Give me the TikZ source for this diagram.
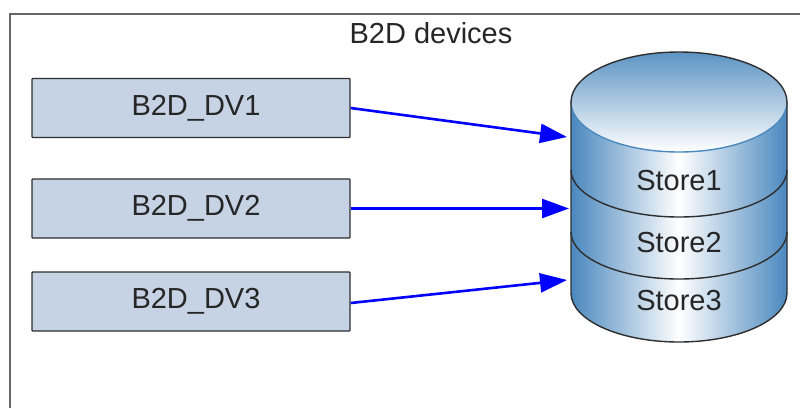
\documentclass[tikz,border=0pt]{standalone}
\usepackage{fontspec}
\setmainfont{Liberation Sans}
\usetikzlibrary{arrows.meta}
\definecolor{edgeblue}{HTML}{4A88BE}
\definecolor{topblue}{HTML}{5C94C4}
\definecolor{boxfill}{HTML}{C6D3E4}
\definecolor{inkline}{HTML}{2E2E2E}
\definecolor{framegrey}{HTML}{666666}
\tikzset{
  devbox/.style={draw=inkline,line width=1.3pt,fill=boxfill,rounded corners=0.8pt,minimum width=318pt,minimum height=59pt,inner sep=0pt,font=\fontsize{29}{31}\selectfont,text=black!85},
  lbl/.style={font=\fontsize{29}{31}\selectfont,text=black!85,inner sep=0pt},
  link/.style={draw={rgb,255:red,0;green,0;blue,255},line width=2.6pt,-{Triangle[length=27pt,width=19pt]}},
  ring/.style={draw=inkline,line width=1.4pt}
}
\begin{document}
\begin{tikzpicture}[x=1pt,y=-1pt]
\useasboundingbox (0,0) rectangle (800,408);
\draw[framegrey,line width=2pt] (9.5,408) -- (9.5,14) -- (800,14);
\node[lbl] (title) at (431,33) {B2D devices};
\node[devbox] (d1) at (191,108) {\hspace*{10pt}B2D\_DV1};
\node[devbox] (d2) at (191,208.5) {\hspace*{10pt}B2D\_DV2};
\node[devbox] (d3) at (191,301.5) {\hspace*{10pt}B2D\_DV3};
% cylinder
\shade[left color=edgeblue,right color=edgeblue,middle color=white]
  (571,102) -- (571,293) arc[start angle=180,end angle=360,x radius=108pt,y radius=49pt] -- (787,102) -- cycle;
\shade[top color=topblue,bottom color=white] (679,102) ellipse[x radius=108pt,y radius=50pt];
\draw[edgeblue,line width=1.4pt] (571,102) arc[start angle=180,end angle=360,x radius=108pt,y radius=50pt];
\draw[ring] (571,102) arc[start angle=180,end angle=0,x radius=108pt,y radius=50pt];
\draw[ring] (571,102) -- (571,293) arc[start angle=180,end angle=360,x radius=108pt,y radius=49pt] -- (787,102);
\draw[ring] (571,170) arc[start angle=180,end angle=360,x radius=108pt,y radius=47pt];
\draw[ring] (571,232) arc[start angle=180,end angle=360,x radius=108pt,y radius=47pt];
\node[lbl] (s1) at (679,181) {Store1};
\node[lbl] (s2) at (679,243) {Store2};
\node[lbl] (s3) at (679,301) {Store3};
\coordinate (c1) at (567,137);
\coordinate (c2) at (569,208.5);
\coordinate (c3) at (567,280);
\draw[link] (d1.east) -- (c1);
\draw[link] (d2.east) -- (c2);
\draw[link] ([yshift=-1.5pt]d3.east) -- (c3);
\end{tikzpicture}
\end{document}
